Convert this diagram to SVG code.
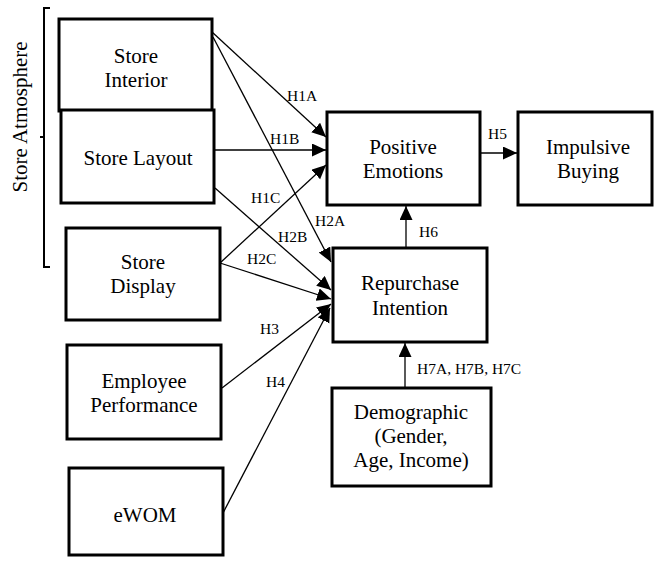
<svg xmlns="http://www.w3.org/2000/svg" width="654" height="561" viewBox="0 0 654 561" font-family="Liberation Serif">
<defs>
<marker id="ah" markerUnits="userSpaceOnUse" markerWidth="15" markerHeight="14" refX="14" refY="6.5" orient="auto">
<path d="M0,0 L14,6.5 L0,13 Z" fill="#000"/>
</marker>
<style>
.box{fill:#fff;stroke:#000;stroke-width:3}
.t{font-size:21px;fill:#000;text-anchor:middle}
.l{font-size:15.5px;fill:#000}
.c{stroke:#000;stroke-width:1.3;fill:none;marker-end:url(#ah)}
</style>
</defs>
<rect width="654" height="561" fill="#fff"/>
<g id="bracket">
<path d="M50,8 L44,8 L44,267 L50,267 M44,137 L40,137" fill="none" stroke="#000" stroke-width="2"/>
<text class="t" transform="translate(27,117) rotate(-90)">Store Atmosphere</text>
</g>
<g id="store-interior"><rect class="box" x="59" y="19" width="153" height="92"/><text class="t" x="136" y="63">Store</text><text class="t" x="136" y="87">Interior</text></g>
<g id="store-layout"><rect class="box" x="61" y="110" width="153" height="93"/><text class="t" x="138" y="165">Store Layout</text></g>
<g id="store-display"><rect class="box" x="66" y="228" width="154" height="92"/><text class="t" x="143" y="269">Store</text><text class="t" x="143" y="293">Display</text></g>
<g id="employee-performance"><rect class="box" x="67" y="345" width="154" height="94"/><text class="t" x="144" y="388">Employee</text><text class="t" x="144" y="412">Performance</text></g>
<g id="ewom"><rect class="box" x="69" y="468" width="154" height="87"/><text class="t" x="145" y="522">eWOM</text></g>
<g id="positive-emotions"><rect class="box" x="327" y="112" width="153" height="93"/><text class="t" x="403" y="154">Positive</text><text class="t" x="403" y="178">Emotions</text></g>
<g id="impulsive-buying"><rect class="box" x="518" y="112" width="134" height="93"/><text class="t" x="588" y="154">Impulsive</text><text class="t" x="588" y="178">Buying</text></g>
<g id="repurchase-intention"><rect class="box" x="333" y="248" width="154" height="94"/><text class="t" x="410" y="290">Repurchase</text><text class="t" x="410" y="315">Intention</text></g>
<g id="demographic"><rect class="box" x="332" y="388" width="159" height="98"/><text class="t" x="411" y="419">Demographic</text><text class="t" x="411" y="443">(Gender,</text><text class="t" x="411" y="467">Age, Income)</text></g>
<g id="connectors">
<line class="c" x1="212" y1="32" x2="326" y2="137"/>
<line class="c" x1="214" y1="150" x2="326" y2="150"/>
<line class="c" x1="220" y1="263" x2="326" y2="165"/>
<line class="c" x1="213" y1="37" x2="331" y2="262"/>
<line class="c" x1="215" y1="188" x2="331" y2="290"/>
<line class="c" x1="220" y1="263" x2="331" y2="299"/>
<line class="c" x1="222" y1="388" x2="331" y2="304"/>
<line class="c" x1="223" y1="513" x2="330" y2="308"/>
<line class="c" x1="480" y1="153" x2="517" y2="153"/>
<line class="c" x1="406" y1="248" x2="406" y2="206"/>
<line class="c" x1="405" y1="388" x2="405" y2="343"/>
<text class="l" x="287" y="101">H1A</text>
<text class="l" x="270" y="144">H1B</text>
<text class="l" x="251" y="203">H1C</text>
<text class="l" x="315" y="226">H2A</text>
<text class="l" x="278" y="242">H2B</text>
<text class="l" x="247" y="264">H2C</text>
<text class="l" x="260" y="334">H3</text>
<text class="l" x="266" y="387">H4</text>
<text class="l" x="488" y="139">H5</text>
<text class="l" x="419" y="237">H6</text>
<text class="l" x="417" y="374">H7A, H7B, H7C</text>
</g>
</svg>
